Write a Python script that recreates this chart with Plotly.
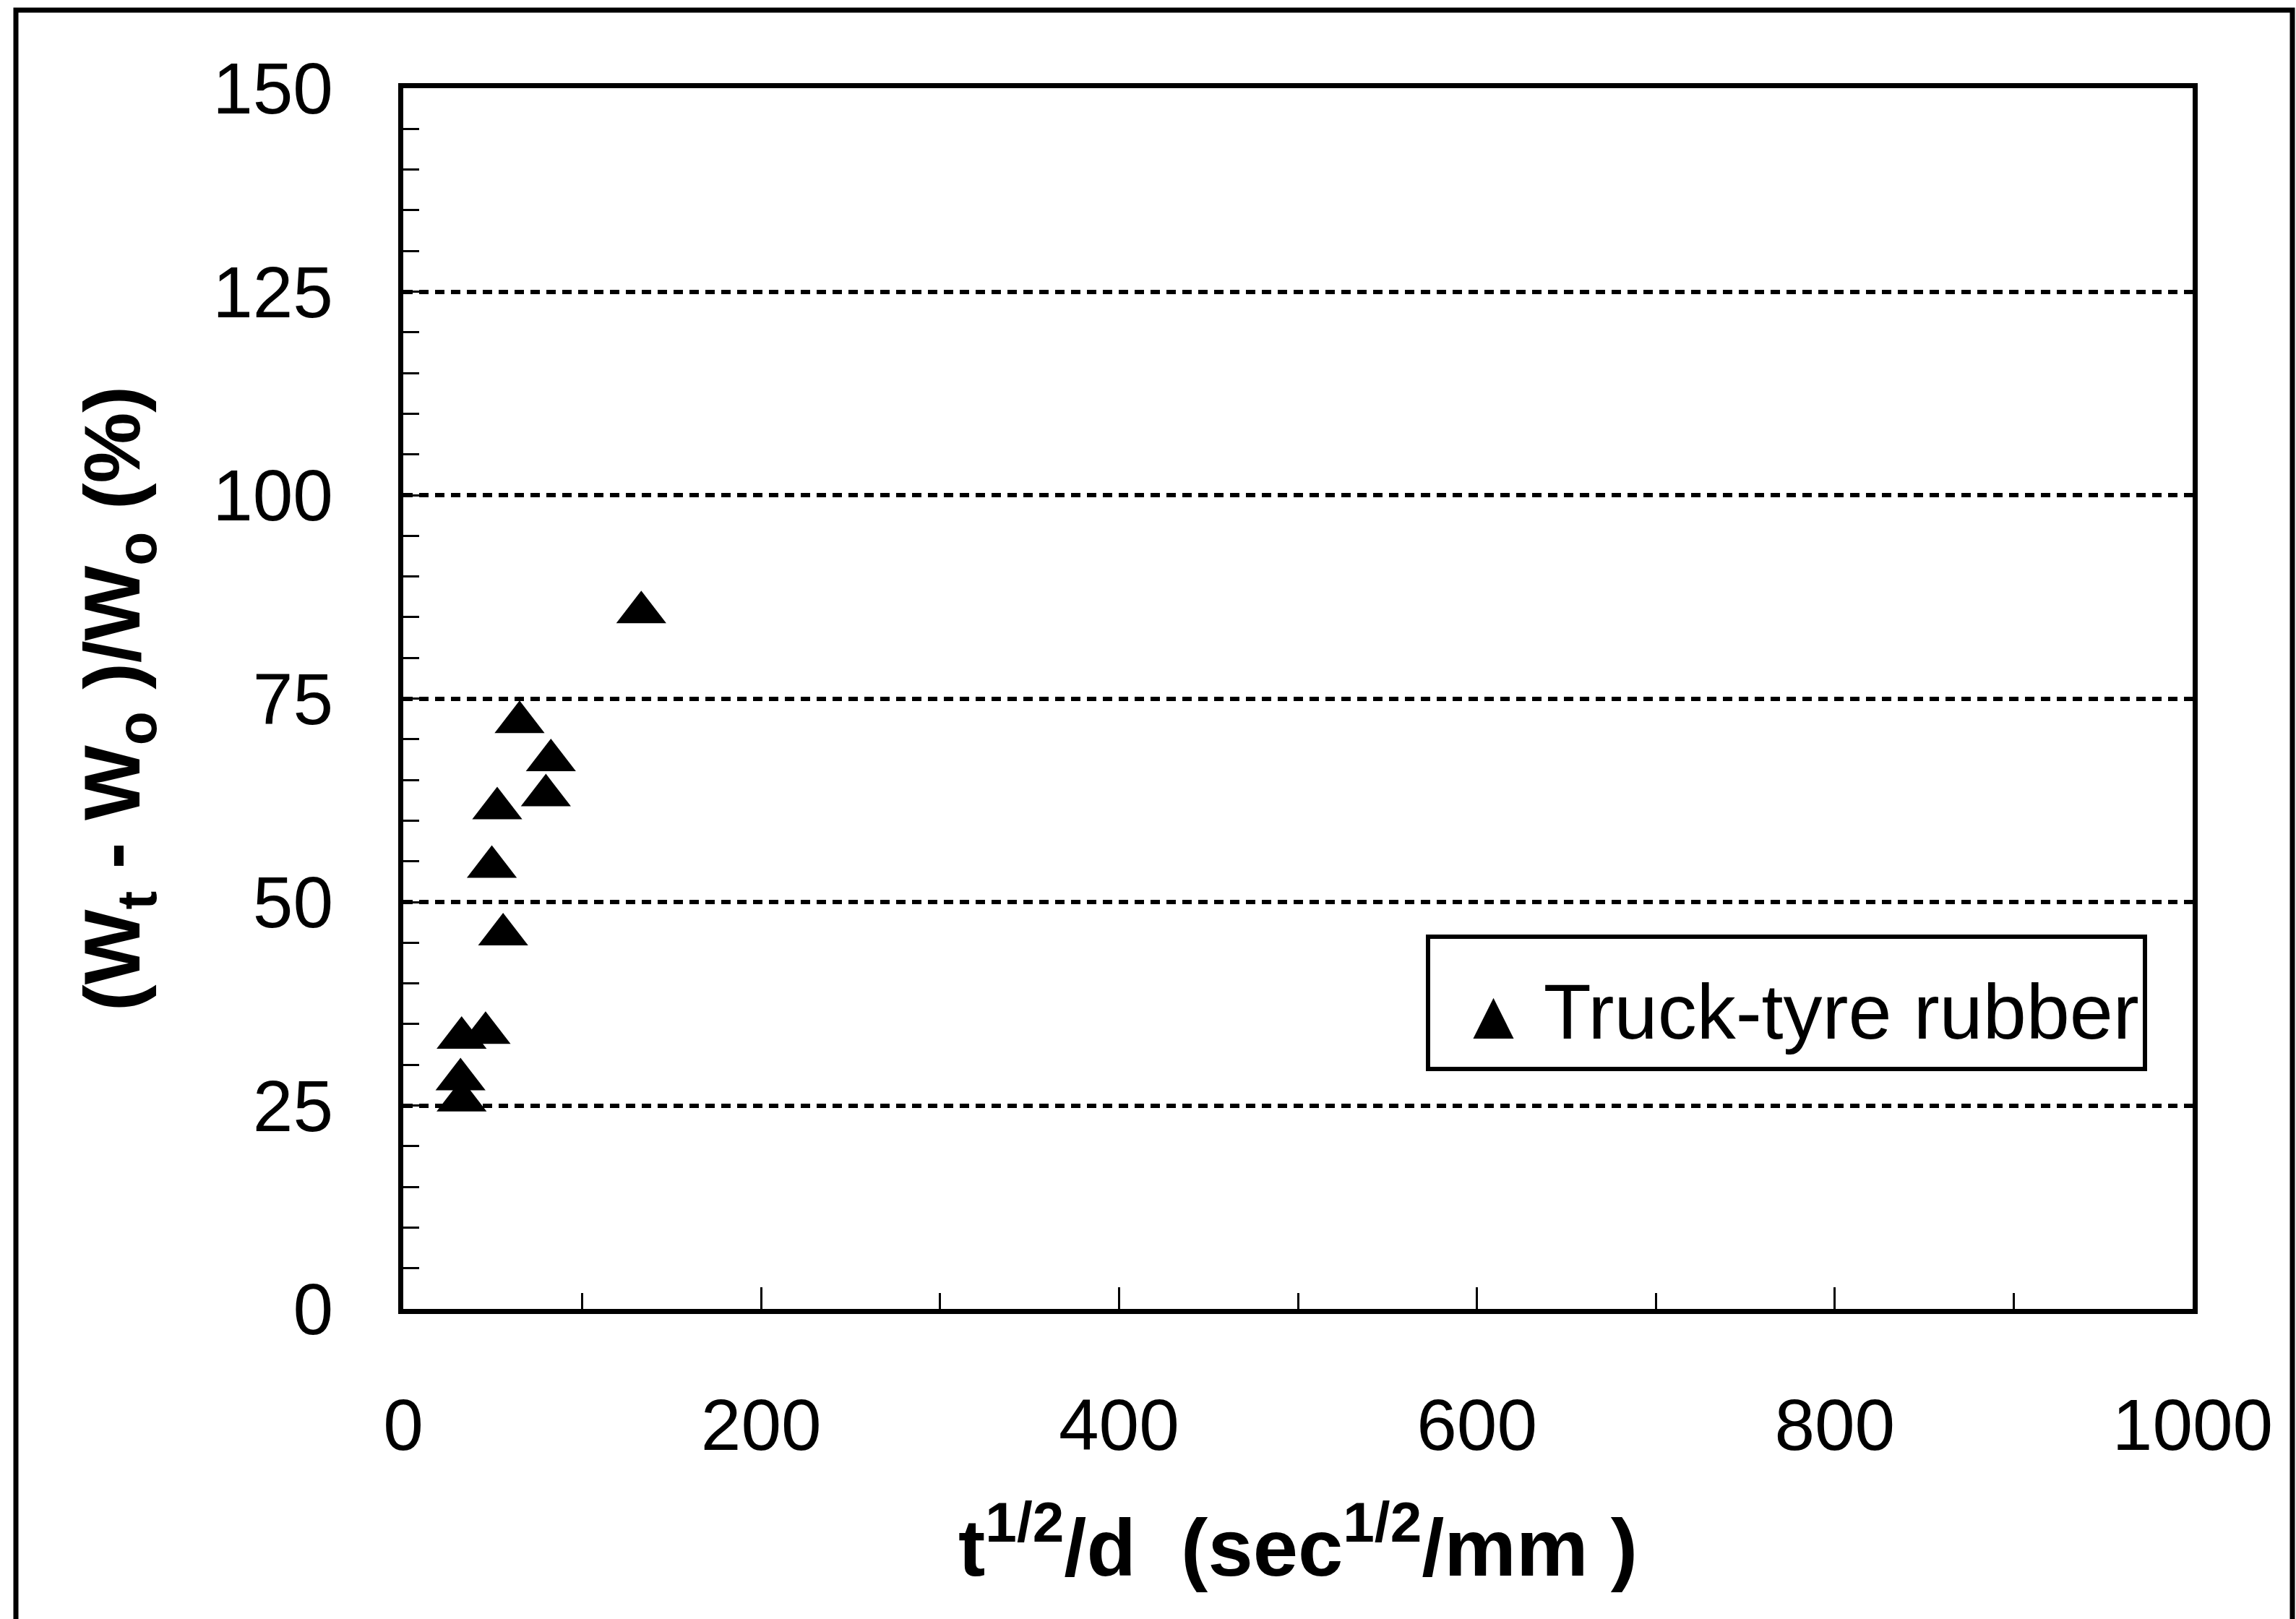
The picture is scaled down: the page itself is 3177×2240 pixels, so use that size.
import plotly.graph_objects as go

# Data (Truck-tyre rubber)
x_vals = [133, 65, 82.5, 79.7, 52.5, 49.5, 55.8, 32.6, 46.0, 32.0, 32.6]
y_vals = [85.6, 72.1, 67.4, 63.1, 61.5, 54.3, 46.0, 33.3, 33.9, 28.2, 25.6]
series_name = "Truck-tyre rubber"

x_ticks = [0, 200, 400, 600, 800, 1000]
y_ticks = [0, 25, 50, 75, 100, 125, 150]

FONT = "Liberation Sans, Arial, Helvetica, sans-serif"

W, H = 3177, 2240
L, R, T, B = 558, W - 3034, 122, H - 1811

fig = go.Figure()

fig.add_trace(go.Scatter(
    x=x_vals, y=y_vals, mode="markers",
    marker=dict(symbol="triangle-up", size=60, color="black", line=dict(width=0)),
    showlegend=False, name=series_name, cliponaxis=False,
))

# legend entry (glyph-sized symbol drawn as text in the legend label)
fig.add_trace(go.Scatter(
    x=[None], y=[None], mode="markers",
    marker=dict(symbol="triangle-up", size=2, color="rgba(0,0,0,0)"),
    name=("<span style='font-size:96px'>▲</span>"
          "<span style='font-size:108px'>\u2009" + series_name + "</span>"),
    showlegend=True,
))

axis_common = dict(
    showline=True, linewidth=7, linecolor="black", mirror=True,
    ticks="inside", tickcolor="black", tickwidth=3,
    zeroline=False,
    tickfont=dict(family=FONT, size=100, color="black"),
)

fig.update_xaxes(
    range=[0, 1000], tickvals=x_ticks, ticktext=[str(v) for v in x_ticks],
    ticklen=30, showgrid=False, ticklabelstandoff=68,
    minor=dict(dtick=100, ticklen=22, tickwidth=3, tickcolor="black", ticks="inside", showgrid=False),
    title=dict(text="<b>t<sup>1/2</sup>/d  (sec<sup>1/2</sup>/mm )</b>",
               font=dict(family=FONT, size=112, color="black"), standoff=78),
    **axis_common,
)
fig.update_yaxes(
    range=[0, 150], tickvals=y_ticks, ticktext=[str(v) for v in y_ticks],
    ticklen=22, showgrid=True, gridcolor="black", gridwidth=6, griddash="13px,9px",
    ticklabelstandoff=70,
    minor=dict(dtick=5, ticklen=22, tickwidth=3, tickcolor="black", ticks="inside", showgrid=False),
    title=dict(text="<b>(W<sub>t</sub> - W<sub>o</sub> )/W<sub>o</sub> (%)</b>",
               font=dict(family=FONT, size=110, color="black"), standoff=66),
    **axis_common,
)

# outer frame of the figure (left, top, right)
px0 = (22 - L) / (W - L - R)
px1 = (3172 - L) / (W - L - R)
py_top = (1811 - 14) / (H - T - B)
py_bot = (1811 - 2260) / (H - T - B)
fig.add_shape(
    type="path", xref="paper", yref="paper",
    path=f"M {px0},{py_bot} L {px0},{py_top} L {px1},{py_top} L {px1},{py_bot}",
    line=dict(color="black", width=7),
)

fig.update_layout(
    width=W, height=H,
    margin=dict(l=L, r=R, t=T, b=B, autoexpand=False),
    paper_bgcolor="white", plot_bgcolor="white",
    font=dict(family=FONT, color="black"),
    legend=dict(
        x=(1973 - L) / (W - L - R), y=(1811 - 1293) / (H - T - B),
        xanchor="left", yanchor="top",
        bgcolor="white", bordercolor="black", borderwidth=6,
        font=dict(family=FONT, size=126, color="black"),
        itemwidth=30,
    ),
    showlegend=True,
)

fig.write_html("out.html")
